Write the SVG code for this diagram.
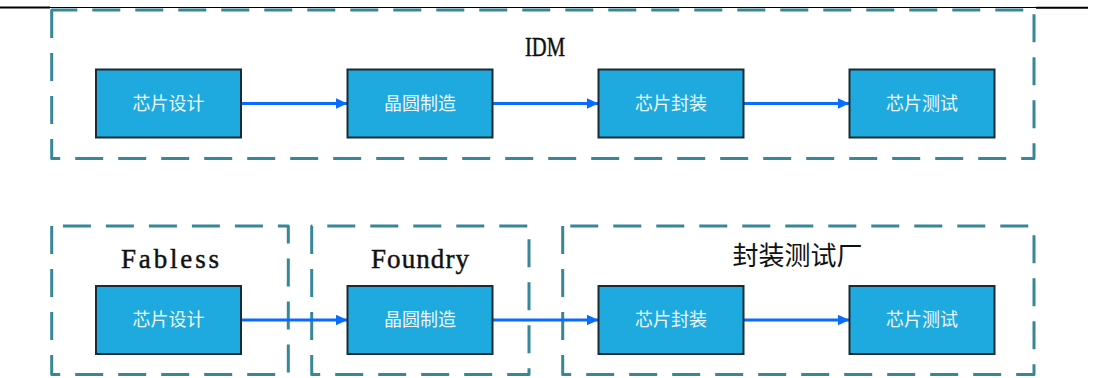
<svg xmlns="http://www.w3.org/2000/svg" width="1098" height="378" viewBox="0 0 1098 378">
  <defs>
    <marker id="arrow" viewBox="0 0 12 11" refX="12" refY="5.5" markerWidth="12" markerHeight="11" markerUnits="userSpaceOnUse" orient="auto">
      <path d="M0,0 L12,5.5 L0,11 Z" fill="#0a6cff"/>
    </marker>
    <style>
      .frame { fill: none; stroke: #388799; stroke-width: 3; stroke-dasharray: 28 15; stroke-linejoin: round; }
      .node rect { fill: #1eaade; stroke: #1c2a33; stroke-width: 2; }
      .node text { fill: #eef7fb; font-family: "Noto Sans CJK SC", sans-serif; font-size: 18px; text-anchor: middle; }
      .title { fill: #111; stroke: #111; stroke-width: 0.45; font-family: "Liberation Serif", "Noto Sans CJK SC", serif; font-size: 27px; text-anchor: middle; }
      .cjk-title { fill: #111; font-family: "Noto Sans CJK SC", sans-serif; font-size: 26px; text-anchor: middle; }
      .link { stroke: #0a6cff; stroke-width: 3; fill: none; }
    </style>
  </defs>

  <!-- header rule -->
  <g id="rule" stroke="#000">
    <line x1="0" y1="7.5" x2="1088" y2="7.5" stroke-width="1"/>
    <line x1="0" y1="7.5" x2="50" y2="7.5" stroke-width="2"/>
    <line x1="1036" y1="7.8" x2="1088" y2="7.8" stroke-width="2"/>
  </g>

  <!-- group frames -->
  <g id="frame-idm">
    <path class="frame" d="M51.7,10 V158.5 H1034 V10 Z"/>
    <text class="title" x="545" y="55.5" font-size="28" textLength="40" lengthAdjust="spacingAndGlyphs">IDM</text>
  </g>
  <g id="frame-fabless">
    <path class="frame" d="M51.7,226 V374.5 H288.3 V226 Z"/>
    <text class="title" x="170" y="267.5" textLength="98" lengthAdjust="spacing">Fabless</text>
  </g>
  <g id="frame-foundry">
    <path class="frame" d="M311.7,226 V374.5 H529 V226 Z"/>
    <text class="title" x="420" y="267.5" textLength="98" lengthAdjust="spacing">Foundry</text>
  </g>
  <g id="frame-osat">
    <path class="frame" d="M562.7,226 V374.5 H1034 V226 Z"/>
    <text class="cjk-title" x="797.5" y="265">封装测试厂</text>
  </g>

  <!-- connectors -->
  <g id="connectors">
    <line class="link" x1="241" y1="103.5" x2="347.5" y2="103.5" marker-end="url(#arrow)"/>
    <line class="link" x1="492.5" y1="103.5" x2="598.5" y2="103.5" marker-end="url(#arrow)"/>
    <line class="link" x1="743.5" y1="103.5" x2="849.5" y2="103.5" marker-end="url(#arrow)"/>
    <line class="link" x1="241" y1="320" x2="347.5" y2="320" marker-end="url(#arrow)"/>
    <line class="link" x1="492.5" y1="320" x2="598.5" y2="320" marker-end="url(#arrow)"/>
    <line class="link" x1="743.5" y1="320" x2="849.5" y2="320" marker-end="url(#arrow)"/>
  </g>

  <!-- IDM row -->
  <g id="idm-design" class="node">
    <rect x="96" y="69.5" width="145" height="68"/>
    <text x="168.5" y="109.5">芯片设计</text>
  </g>
  <g id="idm-fab" class="node">
    <rect x="347.5" y="69.5" width="145" height="68"/>
    <text x="420" y="109.5">晶圆制造</text>
  </g>
  <g id="idm-package" class="node">
    <rect x="598.5" y="69.5" width="145" height="68"/>
    <text x="671" y="109.5">芯片封装</text>
  </g>
  <g id="idm-test" class="node">
    <rect x="849.5" y="69.5" width="145" height="68"/>
    <text x="922" y="109.5">芯片测试</text>
  </g>

  <!-- split row -->
  <g id="fabless-design" class="node">
    <rect x="96" y="286" width="145" height="68"/>
    <text x="168.5" y="326">芯片设计</text>
  </g>
  <g id="foundry-fab" class="node">
    <rect x="347.5" y="286" width="145" height="68"/>
    <text x="420" y="326">晶圆制造</text>
  </g>
  <g id="osat-package" class="node">
    <rect x="598.5" y="286" width="145" height="68"/>
    <text x="671" y="326">芯片封装</text>
  </g>
  <g id="osat-test" class="node">
    <rect x="849.5" y="286" width="145" height="68"/>
    <text x="922" y="326">芯片测试</text>
  </g>
</svg>
